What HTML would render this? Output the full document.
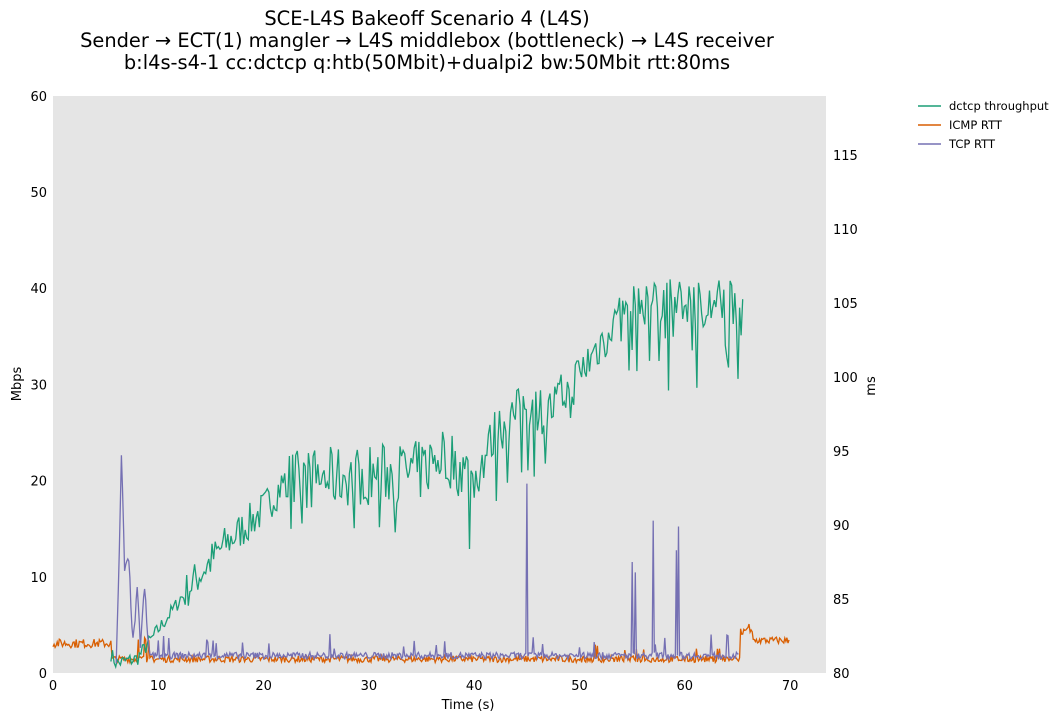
<!DOCTYPE html>
<html><head><meta charset="utf-8"><style>
body{margin:0;background:#fff;width:1064px;height:721px;overflow:hidden;font-family:"DejaVu Sans",sans-serif}
</style></head><body>
<svg id="s" width="1064" height="721" xmlns="http://www.w3.org/2000/svg" font-family="DejaVu Sans, sans-serif">
<text x="427" y="25" font-size="19.4" text-anchor="middle">SCE-L4S Bakeoff Scenario 4 (L4S)</text>
<text x="427" y="47" font-size="19.4" text-anchor="middle">Sender → ECT(1) mangler → L4S middlebox (bottleneck) → L4S receiver</text>
<text x="427" y="69" font-size="19.4" text-anchor="middle">b:l4s-s4-1 cc:dctcp q:htb(50Mbit)+dualpi2 bw:50Mbit rtt:80ms</text>
<rect x="53" y="96" width="773" height="577" fill="#e5e5e5"/>
<g id="ticks" font-size="13"></g>
<text x="468" y="709" font-size="13" text-anchor="middle">Time (s)</text>
<text x="21" y="384" font-size="13" text-anchor="middle" transform="rotate(-90 21 384)">Mbps</text>
<text x="875" y="386" font-size="13" text-anchor="middle" transform="rotate(-90 875 386)">ms</text>
<g id="d" fill="none" stroke-width="1.3"></g>
<g font-size="11.5">
<line x1="918" y1="106" x2="941" y2="106" stroke="#1b9e77" stroke-width="1.5"/><text x="949" y="110">dctcp throughput</text>
<line x1="918" y1="125" x2="941" y2="125" stroke="#d95f02" stroke-width="1.5"/><text x="949" y="129">ICMP RTT</text>
<line x1="918" y1="144" x2="941" y2="144" stroke="#7570b3" stroke-width="1.5"/><text x="949" y="148">TCP RTT</text>
</g>
</svg>
<script>
var NS="http://www.w3.org/2000/svg",t=document.getElementById("ticks"),d=document.getElementById("d");
function tx(x,y,s,a){var e=document.createElementNS(NS,"text");e.setAttribute("x",x);e.setAttribute("y",y);e.setAttribute("text-anchor",a);e.textContent=s;t.appendChild(e);}
for(var i=0;i<=7;i++)tx(53+i*105.3,690,i*10,"middle");
for(var i=0;i<=6;i++)tx(47,673-i*96.2+5,i*10,"end");
for(var m=80;m<=115;m+=5)tx(833,673-(m-80)*14.8+5,m,"start");
var seed=7;function r(){seed=(seed*16807)%2147483647;return seed/2147483647;}
function X(s){return 53+s*10.53}function YM(v){return 673-v*9.62}function YR(m){return 673-(m-80)*14.8}
function interp(k,s){for(var i=0;i<k.length-1;i++)if(s<=k[i+1][0]){var a=k[i],b=k[i+1];return a[1]+(b[1]-a[1])*(s-a[0])/(b[0]-a[0]);}return k[k.length-1][1];}
function path(pts,c){var p=document.createElementNS(NS,"polyline");p.setAttribute("points",pts.join(" "));p.setAttribute("stroke",c);d.appendChild(p);}
var K=[[5.5,2],[6,1],[8,1.5],[10,4.5],[13,9],[16,13],[20,17],[22,20],[35,21],[37,23],[40,20],[42,25],[45,28],[47,27],[50,31],[53,36],[56,38.5],[65.5,38.5]];
var p=[];for(var s=5.5;s<=65.5;s+=0.15){var b=interp(K,s),amp=s<12?0.8:(s<22?2:(s<40?3.2:(s<55?2.5:2.5)));var v=b+(r()-0.5)*2*amp;if(s>22&&r()<0.08)v-=5;if(s>52&&r()<0.04)v-=7;p.push(X(s).toFixed(1)+","+YM(Math.max(0.5,v)).toFixed(1));}
var q=[];for(var s=0;s<=70;s+=0.1){var b;if(s<5.5)b=82+(r()-0.5)*0.6;else if(s<65.3)b=80.85+(r()-0.3)*0.45;else if(s<66.5)b=82.4+r()*0.6+(s<66.2&&s>65.8?0.4:0);else b=82.2+(r()-0.5)*0.5;
if(s>50&&s<65&&r()<0.05)b+=0.8;if(s>8&&s<9.5&&r()<0.2)b+=1.5;q.push(X(s).toFixed(1)+","+YR(b).toFixed(1));}
var KT=[[6,81],[6.3,88],[6.5,94.7],[6.8,87],[7.2,87.5],[7.6,82],[8,85.5],[8.3,82],[8.7,85.8],[9,82.2],[9.3,81.1]];
var u=[];for(var s=6;s<=65.2;s+=0.1){var v;if(s<9.3)v=interp(KT,s)+(r()-0.5)*0.8;else{v=80.95+r()*0.45;if(r()<0.04)v+=0.6+r()*0.7;}
[[10.5,82.5],[45,92.8],[55,87.5],[55.3,86.8],[57,90.3],[59.2,88.3],[59.4,89.9],[62.5,82.6]].forEach(function(k){if(Math.abs(s-k[0])<0.06)v=k[1];});
u.push(X(s).toFixed(1)+","+YR(v).toFixed(1));}
path(q,"#d95f02");path(p,"#1b9e77");path(u,"#7570b3");
</script>
</body></html>
